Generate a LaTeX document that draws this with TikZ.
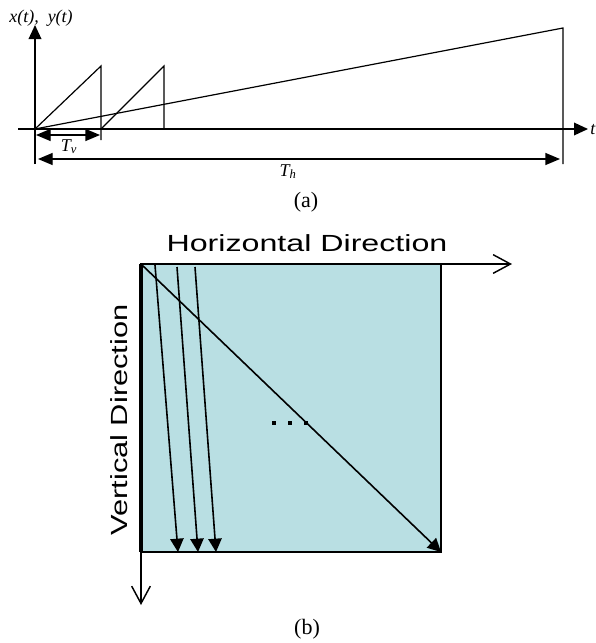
\documentclass[tikz,border=0pt]{standalone}
\usepackage{fontspec}
\setmainfont{Liberation Serif}
\setsansfont{Liberation Sans}
\usetikzlibrary{arrows.meta}
\definecolor{scanbg}{HTML}{B9DFE3}
\definecolor{ink}{HTML}{000000}
\tikzset{
  axisline/.style={draw=ink, line width=1pt, -{Triangle[length=10.5pt,width=9.5pt]}},
  rampline/.style={draw=ink, line width=0.9pt},
  spanarrow/.style={draw=ink, line width=1pt,
    {Triangle[length=11pt,width=9pt]}-{Triangle[length=11pt,width=9pt]}},
  dirarrow/.style={draw=ink, line width=1.1pt, -{Straight Barb[length=13pt,width=14pt]}},
  scanline/.style={draw=ink, line width=1.2pt, -{Triangle[length=10pt,width=10pt]}},
  dirlabel/.style={font=\sffamily\fontsize{17.5}{20}\selectfont, inner sep=0pt, anchor=base},
  siglabel/.style={font=\itshape\fontsize{13.5}{15}\selectfont, inner sep=0pt},
  captionlabel/.style={font=\fontsize{16.5}{18}\selectfont, inner sep=0pt}
}
\begin{document}
\begin{tikzpicture}[x=0.75pt, y=-0.75pt]
\useasboundingbox (0,0) rectangle (596,643);

% (a) sawtooth signals
\coordinate (o) at (35,129);
\coordinate (ytop) at (35,25);
\coordinate (ybot) at (35,164);
\coordinate (xleft) at (18,129);
\coordinate (xright) at (588,129);
\coordinate (peak1) at (101,66);
\coordinate (foot1) at (101,140);
\coordinate (start2) at (101,129);
\coordinate (peak2) at (164,66);
\coordinate (foot2) at (164,129);
\coordinate (peakh) at (563,28);
\coordinate (footh) at (563,164);
\coordinate (tvl) at (36,135);
\coordinate (tvr) at (100,135);
\coordinate (thl) at (38,159);
\coordinate (thr) at (560,159);

\draw[rampline] (ybot) -- (o);
\draw[axisline] (o) -- (ytop);
\draw[axisline] (xleft) -- (xright);
\draw[rampline] (o) -- (peak1) -- (foot1);
\draw[rampline] (start2) -- (peak2) -- (foot2);
\draw[rampline] (o) -- (peakh) -- (footh);
\draw[spanarrow] (tvl) -- (tvr);
\draw[spanarrow] (thl) -- (thr);

\node[siglabel, anchor=base] (xy) at (41,22) {x(t),\ \ y(t)};
\node[siglabel, anchor=west] (tl) at (590,130) {t};
\node[siglabel, anchor=base] (tv) at (69,151) {T\textsubscript{v}};
\node[siglabel, anchor=base] (th) at (288,176) {T\textsubscript{h}};
\node[captionlabel, anchor=base] (capa) at (306,207) {(a)};

% (b) scan order
\coordinate (corner) at (141,264);
\coordinate (far) at (441,552);
\coordinate (hend) at (512,264);
\coordinate (vend) at (141,605);

\fill[scanbg] (corner) rectangle (far);
\draw[draw=ink, line width=1.5pt] (corner) rectangle (far);
\draw[draw=ink, line width=3pt] (corner) -- (corner |- far);
\draw[dirarrow] (corner) -- (hend);
\draw[dirarrow] (corner) -- (vend);

\draw[scanline] (155,265) -- (178,552);
\draw[scanline] (177,267) -- (198,552);
\draw[scanline] (195,267) -- (216,552);
\draw[scanline] (corner) -- (far);
\foreach \dx in {274,290,306}
  \fill[ink] (\dx-1.6,421.4) rectangle (\dx+1.6,424.6);

\node[dirlabel] (hdir) at (307,251) {\scalebox{1.38}[1]{Horizontal Direction}};
\node[dirlabel, rotate=90] (vdir) at (127,420) {\scalebox{1.32}[1]{Vertical Direction}};
\node[captionlabel, anchor=base] (capb) at (307,634) {(b)};
\end{tikzpicture}
\end{document}
